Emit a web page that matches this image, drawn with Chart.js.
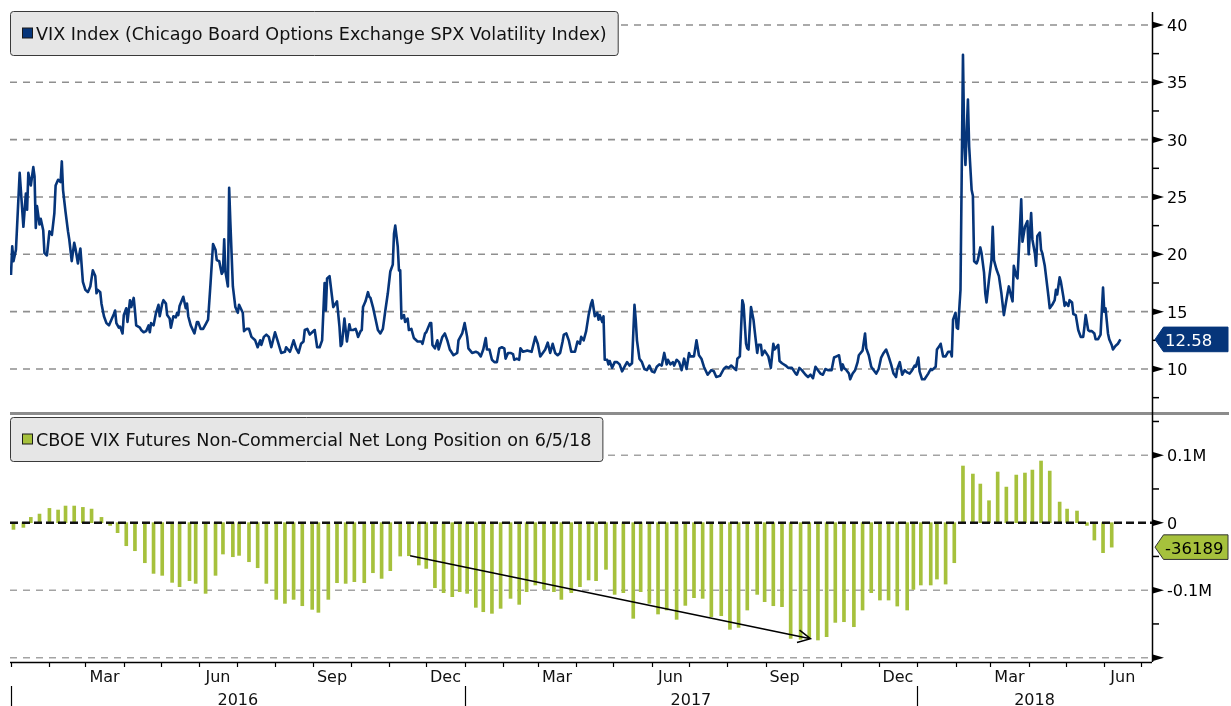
<!DOCTYPE html>
<html>
<head>
<meta charset="utf-8">
<script src="https://cdn.jsdelivr.net/npm/chart.js@4.4.1/dist/chart.umd.min.js"></script>
<style>
  html, body { margin: 0; padding: 0; background: #fff; }
  #wrap { position: relative; width: 1231px; height: 706px; overflow: hidden; }
  #topBox { position: absolute; left: 0; top: 0; width: 1231px; height: 413px; }
  #botBox { position: absolute; left: 0; top: 412px; width: 1231px; height: 294px; }
</style>
</head>
<body>
<div id="wrap">
  <div id="topBox"><canvas id="vixChart"></canvas></div>
  <div id="botBox"><canvas id="posChart"></canvas></div>
</div>
<script>
// days counted from 1 Jan 2016
const vixDay = [0,1,2,4,7,10,12,13,14,16,18,19,20,21,23,24,26,27,29,31,33,35,36,38,40,41,42,44,46,47,49,51,52,54,55,56,58,60,62,64,66,68,69,70,72,73,75,77,79,81,83,84,85,87,88,90,91,93,94,96,97,99,100,101,104,105,107,109,111,112,113,115,117,119,120,122,123,125,126,128,129,131,133,134,135,136,139,141,142,143,145,148,150,151,153,155,157,159,161,163,165,166,168,170,171,172,173,175,176,177,179,181,183,184,
  187,188,190,192,194,197,199,201,202,204,206,208,210,213,215,218,221,222,225,226,228,230,232,234,236,237,239,241,243,245,247,249,251,253,254,255,257,259,260,263,265,266,267,269,271,273,274,276,278,279,280,282,283,284,286,288,289,290,292,294,296,298,300,302,304,306,308,309,310,312,313,314,315,317,318,320,321,323,325,328,331,332,334,335,338,339,340,342,344,345,348,350,352,354,357,360,361,364,366,368,369,372,
  375,377,379,381,383,384,386,388,390,392,394,396,398,399,401,403,405,406,408,410,411,413,416,417,420,423,425,427,429,431,433,435,437,439,441,443,445,446,448,450,452,455,457,459,460,462,464,466,468,469,471,473,474,475,477,478,479,481,482,483,485,487,489,491,493,495,497,499,501,503,504,505,507,509,511,513,515,517,519,521,523,525,527,529,530,532,534,535,537,539,541,543,545,547,548,551,553,555,557,559,562,
  565,567,569,572,575,577,579,581,584,585,586,588,590,591,593,594,595,597,599,600,602,603,605,606,608,611,613,615,616,619,620,622,625,627,630,633,634,636,638,641,643,645,647,649,651,653,655,657,659,662,664,666,668,670,671,672,674,676,677,679,681,683,684,687,689,690,692,694,696,698,700,702,704,706,708,710,712,714,715,717,719,721,723,725,727,729,730,732,733,735,737,740,742,743,746,747,749,750,752,
  754,756,758,759,760,762,763,764,766,768,769,770,772,773,775,776,777,779,780,782,783,785,786,787,789,791,792,793,795,797,799,801,803,804,805,807,808,809,811,812,814,815,816,818,820,821,823,824,826,827,828,830,831,832,834,836,837,838,840,842,843,844,846,847,849,850,851,853,854,856,857,859,861,862,863,865,866,867,869,870,872,874,875,877,879,881,882,883,885,886,888,889,891,893,895];

const vixValue = [18.2,20.7,19.4,20.4,27.1,22.4,25.3,23.9,27.1,26.0,27.6,26.8,22.3,24.2,22.6,23.1,22.1,20.1,19.9,22.0,21.7,23.6,26.0,26.5,26.3,28.1,25.6,23.7,22.0,21.3,19.4,21.0,20.5,19.2,19.9,20.5,17.6,16.9,16.7,17.2,18.6,18.1,16.6,16.9,16.7,15.7,14.6,14.0,13.8,14.3,14.8,15.1,14.0,13.6,13.7,13.1,14.7,15.3,14.1,16.0,15.4,16.2,15.1,13.8,13.6,13.4,13.2,13.3,13.8,13.2,14.0,13.8,14.9,15.6,14.6,15.7,16.0,15.7,14.7,14.4,13.6,14.6,14.5,14.9,14.7,15.5,16.3,15.3,15.7,14.6,13.8,13.1,14.1,14.1,13.5,13.5,13.9,14.3,17.5,20.9,20.4,19.5,19.4,18.3,18.5,21.3,18.5,17.2,25.8,22.7,17.2,15.4,14.9,15.6,
  14.9,13.3,13.5,13.5,12.8,12.5,11.9,12.5,12.1,12.8,13.0,12.8,11.9,13.2,12.5,11.4,11.5,11.9,11.5,11.8,12.5,11.8,11.4,12.2,12.4,13.4,13.5,13.0,13.2,13.4,11.9,11.9,12.5,17.5,15.1,17.9,18.1,16.3,15.4,15.9,13.7,12.0,12.2,14.4,12.4,13.9,13.4,13.4,13.5,13.2,12.8,13.3,13.4,15.4,15.9,16.7,16.3,16.2,15.4,14.4,13.4,13.1,13.5,15.1,16.6,18.5,19.1,21.8,22.5,20.7,18.6,18.6,14.4,14.7,14.1,14.4,13.4,13.5,12.7,12.4,12.4,12.2,13.1,13.2,14.0,14.0,12.1,11.8,12.5,11.7,12.8,13.1,12.5,11.7,11.2,11.4,12.5,13.1,14.0,12.8,11.8,11.4,
  11.5,11.4,11.1,11.7,12.7,11.7,11.7,10.8,10.6,10.6,11.8,11.9,11.8,10.9,11.4,11.4,11.3,10.8,10.9,10.8,11.8,11.5,11.6,11.6,11.5,12.8,12.2,11.1,11.4,11.7,12.3,11.4,12.2,11.4,11.2,11.4,12.4,13.0,13.1,12.5,11.5,11.5,12.4,12.2,12.8,12.5,13.3,14.7,15.7,16.0,14.6,14.9,14.3,14.7,14.1,14.6,10.8,10.8,10.4,10.7,10.1,10.6,10.6,10.4,9.8,10.2,10.6,10.3,10.5,15.6,14.3,12.5,10.9,10.6,10.0,9.9,10.3,9.8,9.7,10.2,10.4,10.3,11.4,10.4,10.8,10.4,10.6,10.3,10.8,10.6,9.9,10.9,10.0,11.4,11.1,11.1,12.5,11.2,10.9,10.2,9.5,
  9.9,9.8,9.3,9.4,10.0,10.2,10.1,10.3,10.0,9.9,10.9,11.1,16.0,15.6,12.2,11.8,11.7,15.4,14.3,13.3,11.4,12.1,12.1,11.2,11.6,11.1,10.1,12.2,11.7,12.1,10.7,10.5,10.3,10.1,10.1,9.6,9.5,10.1,9.9,9.5,9.3,9.5,9.2,10.2,9.9,9.6,9.5,10.0,9.9,9.9,11.0,11.1,11.2,9.9,10.4,10.1,9.9,9.6,9.1,9.6,9.9,10.6,11.2,11.6,13.1,11.8,11.2,10.2,9.9,9.6,10.0,11.0,11.4,11.7,11.1,10.4,9.6,9.3,10.0,10.6,9.5,9.9,9.7,9.6,9.9,10.3,10.2,11.0,9.8,9.1,9.1,9.6,10.0,9.9,10.2,11.7,12.0,12.2,11.1,
  11.1,11.5,11.5,11.1,14.3,14.9,13.6,13.5,16.9,37.4,30.0,27.8,33.5,29.4,25.6,25.1,19.4,19.2,19.5,20.6,20.1,18.4,16.6,15.8,17.8,19.5,22.4,19.5,18.7,18.1,16.6,14.7,16.0,16.6,17.2,16.3,15.9,19.0,18.1,17.9,22.4,24.8,21.1,22.4,22.9,20.0,23.6,21.3,20.1,19.0,21.6,21.9,20.4,20.1,19.0,17.2,16.3,15.3,15.6,16.0,16.9,16.5,18.0,17.6,16.3,15.5,15.8,15.5,16.0,15.8,14.8,14.7,13.4,13.1,12.8,12.8,13.7,14.7,13.4,13.3,13.3,13.1,12.6,12.6,13.0,17.1,15.0,15.3,13.1,12.6,12.1,11.7,12.0,12.2,12.58];

// weekly non-commercial net long position (contracts)
const posDay = [2,10,16,23,31,38,44,51,58,65,73,80,86,93,100,108,115,122,130,136,144,149,157,165,171,179,184,192,199,206,214,221,228,235,243,248,256,263,270,277,285,292,299,306,314,321,329,335,342,349,356,362,368,375,381,388,395,403,410,416,423,430,438,444,452,459,466,472,480,487,494,502,508,515,522,529,537,544,551,558,565,573,580,587,594,602,608,615,622,629,637,644,651,658,665,672,680,687,694,701,708,715,723,728,734,742,747,754,761,768,776,782,789,796,803,811,818,824,831,838,846,852,860,868,874,881,888];
const posValue = [-9900,-6900,7900,12800,21200,18800,24700,24700,22700,20200,
  7900,-4000,-14800,-34100,-41500,-59300,-75100,-78000,-88400,-94800,
  -85900,-89900,-104700,-78000,-46400,-50400,-48400,-57800,-66700,-89900,
  -113600,-119500,-113600,-123000,-128400,-132800,-113600,-88900,-89900,-87400,
  -88900,-74100,-82500,-71100,-49400,-48900,-62700,-67700,-96300,-103700,
  -109600,-102200,-104700,-125400,-131900,-134300,-126900,-112100,-121000,-102200,
  -92300,-98800,-102200,-113600,-103700,-94800,-84900,-85900,-69100,-106200,
  -103700,-141700,-102200,-119500,-135300,-129400,-143200,-122500,-111100,-112100,
  -139300,-137800,-158000,-155100,-129400,-106200,-117000,-123000,-124400,-171400,
  -172800,-170000,-173800,-168900,-147700,-146700,-154100,-129400,-103700,-114600,
  -114600,-123500,-129400,-98800,-92300,-92300,-83500,-90900,-59300,84000,
  72100,57300,32600,75100,52800,70600,73600,78000,91400,76500,
  30600,20200,17300,-4000,-25700,-44400,-36189];

const vixMajorTicks = [10, 15, 20, 25, 30, 35, 40];
const vixMinorTicks = [7.5, 12.5, 17.5, 22.5, 27.5, 32.5, 37.5];
const posMajorTicks = [-200000, -100000, 0, 100000];
const posTickLabels = ['', '-0.1M', '0', '0.1M'];
const posMinorTicks = [-150000, -50000, 50000, 150000];
const monthLabelMonths = ['2016-03','2016-06','2016-09','2016-12','2017-03','2017-06','2017-09','2017-12','2018-03','2018-06'];
const monthLabels = ['Mar','Jun','Sep','Dec','Mar','Jun','Sep','Dec','Mar','Jun'];
const yearLabels = ['2016', '2017', '2018'];
const trendFrom = [322, -49000];
const trendTo = [645, -172000];

const vixTitle = 'VIX Index (Chicago Board Options Exchange SPX Volatility Index)';
const posTitle = 'CBOE VIX Futures Non-Commercial Net Long Position on 6/5/18';

const FONT = '"DejaVu Sans", Verdana, sans-serif';
const NAVY = '#06357a';
const GREEN = '#a6c13c';
const AXIS_X = 1152;
const X_MIN = -0.8, X_MAX = 920.5;

function dayOf(y, m, d) {
  return Math.round((Date.UTC(y, m - 1, d) - Date.UTC(2016, 0, 1)) / 864e5);
}

function hLine(ctx, x1, x2, y, color, width, dash) {
  ctx.save();
  ctx.strokeStyle = color;
  ctx.lineWidth = width;
  ctx.setLineDash(dash);
  ctx.beginPath();
  ctx.moveTo(x1, y);
  ctx.lineTo(x2, y);
  ctx.stroke();
  ctx.restore();
}

function drawLegend(ctx, x, y, h, text, swatch) {
  ctx.save();
  ctx.font = '17.6px ' + FONT;
  const w = ctx.measureText(text).width + 37;
  ctx.fillStyle = '#e6e6e6';
  ctx.strokeStyle = '#3a3a3a';
  ctx.lineWidth = 1;
  ctx.beginPath();
  ctx.roundRect(x + 0.5, y + 0.5, w, h, 3);
  ctx.fill();
  ctx.stroke();
  const sy = y + h / 2 - 5;
  ctx.fillStyle = swatch;
  ctx.fillRect(x + 12.5, sy, 10, 10);
  ctx.strokeStyle = '#1a1a1a';
  ctx.strokeRect(x + 12.5, sy, 10, 10);
  ctx.fillStyle = '#111';
  ctx.textBaseline = 'alphabetic';
  ctx.fillText(text, x + 26, y + h / 2 + 7);
  ctx.restore();
}

function drawYAxis(ctx, scale, top, bottom, majors, labels, minors) {
  ctx.save();
  ctx.strokeStyle = '#000';
  ctx.fillStyle = '#000';
  ctx.lineWidth = 1.5;
  ctx.beginPath();
  ctx.moveTo(AXIS_X + 0.5, top);
  ctx.lineTo(AXIS_X + 0.5, bottom);
  ctx.stroke();
  minors.forEach(v => {
    const y = scale.getPixelForValue(v);
    ctx.beginPath();
    ctx.moveTo(AXIS_X, y);
    ctx.lineTo(AXIS_X + 7, y);
    ctx.stroke();
  });
  ctx.font = '16px ' + FONT;
  ctx.textAlign = 'left';
  ctx.textBaseline = 'alphabetic';
  majors.forEach((v, i) => {
    const y = scale.getPixelForValue(v);
    ctx.beginPath();
    ctx.moveTo(AXIS_X, y - 3.5);
    ctx.lineTo(AXIS_X + 12, y);
    ctx.lineTo(AXIS_X, y + 3.5);
    ctx.closePath();
    ctx.fill();
    ctx.fillText(labels[i], 1167, y + 6);
  });
  ctx.restore();
}

function drawTag(ctx, y, text, fill, textColor, border) {
  const h = 12.3;
  ctx.save();
  ctx.beginPath();
  ctx.moveTo(1155, y);
  ctx.lineTo(1163.5, y - h);
  ctx.lineTo(1228, y - h);
  ctx.lineTo(1228, y + h);
  ctx.lineTo(1163.5, y + h);
  ctx.closePath();
  ctx.fillStyle = fill;
  ctx.fill();
  ctx.strokeStyle = border;
  ctx.lineWidth = 1;
  ctx.stroke();
  ctx.fillStyle = textColor;
  ctx.font = '16.5px ' + FONT;
  ctx.textAlign = 'left';
  ctx.textBaseline = 'alphabetic';
  ctx.fillText(text, 1165, y + 6.5);
  ctx.restore();
}

const vixDecor = {
  id: 'vixDecor',
  beforeDatasetsDraw(chart) {
    const {ctx, scales: {y}} = chart;
    vixMajorTicks.forEach(v => {
      hLine(ctx, 10, AXIS_X, y.getPixelForValue(v), '#8f8f8f', 1.6, [7, 6]);
    });
  },
  afterDraw(chart) {
    const {ctx, scales: {y}, chartArea} = chart;
    drawYAxis(ctx, y, chartArea.top, 413, vixMajorTicks, vixMajorTicks.map(String), vixMinorTicks);
    drawLegend(ctx, 10, 11, 44, vixTitle, NAVY);
    const last = vixValue[vixValue.length - 1];
    drawTag(ctx, y.getPixelForValue(last), last.toFixed(2), NAVY, '#fff', NAVY);
  }
};

const posDecor = {
  id: 'posDecor',
  beforeDatasetsDraw(chart) {
    const {ctx, scales: {y}} = chart;
    [100000, -100000, -200000].forEach(v => {
      hLine(ctx, 10, AXIS_X, y.getPixelForValue(v), '#a3a3a3', 1.4, [7, 6]);
    });
  },
  afterDatasetsDraw(chart) {
    const {ctx, scales: {x, y}} = chart;
    hLine(ctx, 10, AXIS_X, y.getPixelForValue(0), '#111', 2.4, [8, 4]);
    // trend arrow
    const x0 = x.getPixelForValue(trendFrom[0]), y0 = y.getPixelForValue(trendFrom[1]);
    const x1 = x.getPixelForValue(trendTo[0]), y1 = y.getPixelForValue(trendTo[1]);
    const a = Math.atan2(y1 - y0, x1 - x0);
    ctx.save();
    ctx.strokeStyle = '#000';
    ctx.lineWidth = 1.5;
    ctx.beginPath();
    ctx.moveTo(x0, y0);
    ctx.lineTo(x1, y1);
    ctx.moveTo(x1 - 14 * Math.cos(a - 0.47), y1 - 14 * Math.sin(a - 0.47));
    ctx.lineTo(x1, y1);
    ctx.lineTo(x1 - 14 * Math.cos(a + 0.47), y1 - 14 * Math.sin(a + 0.47));
    ctx.stroke();
    ctx.restore();
  },
  afterDraw(chart) {
    const {ctx, scales: {x, y}, chartArea} = chart;
    // panel separator
    hLine(ctx, 10, 1229, 1.5, '#8c8c8c', 3, []);
    drawYAxis(ctx, y, 0, chartArea.bottom, posMajorTicks, posTickLabels, posMinorTicks);

    // time axis
    const base = chartArea.bottom;
    ctx.save();
    ctx.strokeStyle = '#000';
    ctx.lineWidth = 1.5;
    ctx.beginPath();
    ctx.moveTo(10, base + 0.5);
    ctx.lineTo(AXIS_X, base + 0.5);
    ctx.stroke();
    ctx.lineWidth = 1.2;
    for (let yr = 2016; yr <= 2018; yr++) {
      for (let m = 1; m <= 12; m++) {
        const d = dayOf(yr, m, 1);
        if (d > X_MAX) break;
        const px = Math.round(x.getPixelForValue(d)) + 0.5;
        ctx.beginPath();
        ctx.moveTo(px, base);
        ctx.lineTo(px, base + 5);
        ctx.stroke();
      }
    }
    ctx.fillStyle = '#111';
    ctx.font = '16px ' + FONT;
    ctx.textAlign = 'center';
    ctx.textBaseline = 'alphabetic';
    monthLabelMonths.forEach((s, i) => {
      const [yy, mm] = s.split('-').map(Number);
      const d0 = dayOf(yy, mm, 1), d1 = dayOf(yy, mm + 1, 1);
      ctx.fillText(monthLabels[i], x.getPixelForValue((d0 + d1) / 2), base + 20);
    });
    yearLabels.forEach(s => {
      const yy = Number(s);
      const d0 = Math.max(dayOf(yy, 1, 1), X_MIN), d1 = Math.min(dayOf(yy + 1, 1, 1), X_MAX);
      ctx.fillText(s, (x.getPixelForValue(d0) + x.getPixelForValue(d1)) / 2, base + 43);
      const px = Math.round(x.getPixelForValue(dayOf(yy, 1, 1))) + 0.5;
      ctx.beginPath();
      ctx.moveTo(px, base + 24);
      ctx.lineTo(px, base + 44);
      ctx.stroke();
    });
    ctx.restore();

    drawLegend(ctx, 10, 5, 44, posTitle, GREEN);
    drawTag(ctx, y.getPixelForValue(posValue[posValue.length - 1]), String(posValue[posValue.length - 1]), GREEN, '#000', '#333');
  }
};

new Chart(document.getElementById('vixChart'), {
  type: 'line',
  data: {
    datasets: [{
      data: vixDay.map((d, i) => ({x: d, y: vixValue[i]})),
      borderColor: NAVY,
      borderWidth: 2.6,
      pointRadius: 0,
      tension: 0,
      borderJoinStyle: 'round'
    }]
  },
  options: {
    responsive: true,
    maintainAspectRatio: false,
    animation: false,
    events: [],
    layout: {padding: {left: 10, right: 79, top: 12, bottom: 1}},
    plugins: {legend: {display: false}, tooltip: {enabled: false}},
    scales: {
      x: {type: 'linear', display: false, min: X_MIN, max: X_MAX},
      y: {type: 'linear', display: false, min: 6.25, max: 41.13}
    }
  },
  plugins: [vixDecor]
});

new Chart(document.getElementById('posChart'), {
  type: 'bar',
  data: {
    datasets: [{
      data: posDay.map((d, i) => ({x: d, y: posValue[i]})),
      backgroundColor: GREEN,
      barThickness: 3
    }]
  },
  options: {
    responsive: true,
    maintainAspectRatio: false,
    animation: false,
    events: [],
    layout: {padding: {left: 10, right: 79, top: 3, bottom: 44}},
    plugins: {legend: {display: false}, tooltip: {enabled: false}},
    scales: {
      x: {type: 'linear', display: false, offset: false, min: X_MIN, max: X_MAX},
      y: {type: 'linear', display: false, min: -206400, max: 159600}
    }
  },
  plugins: [posDecor]
});
</script>
</body>
</html>
